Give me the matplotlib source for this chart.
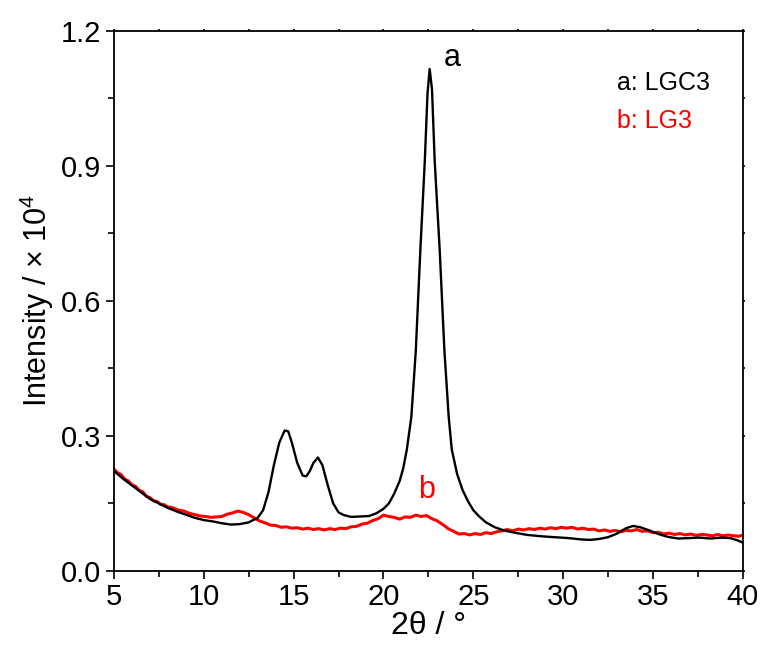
import matplotlib
matplotlib.use("Agg")
import matplotlib.pyplot as plt
from matplotlib.ticker import MultipleLocator, FormatStrFormatter

plt.rcParams['font.family'] = ['Liberation Sans', 'DejaVu Sans']
plt.rcParams['mathtext.fontset'] = 'custom'
plt.rcParams['mathtext.rm'] = 'Liberation Sans'

# LGC3 (curve a)
x_a = [5.0, 5.5, 6.0, 6.5, 7.0, 7.5, 8.0, 8.5, 9.0, 9.5, 10.0, 10.5, 11.0, 11.5,
       12.0, 12.5, 13.0, 13.3, 13.6, 13.9, 14.2, 14.5, 14.7, 14.9, 15.2, 15.5,
       15.7, 15.9, 16.1, 16.35, 16.6, 16.9, 17.2, 17.5, 17.8, 18.2, 18.7, 19.2,
       19.6, 20.0, 20.3, 20.6, 20.9, 21.1, 21.3, 21.55, 21.8, 22.05, 22.3, 22.45,
       22.57, 22.7, 22.85, 23.13, 23.39, 23.63, 23.8, 24.1, 24.4, 24.7, 25.0,
       25.3, 25.7, 26.2, 26.7, 27.3, 28.0, 28.8, 29.5, 30.3, 31.0, 31.5, 32.0,
       32.5, 33.0, 33.5, 33.9, 34.3, 34.8, 35.3, 35.8, 36.4, 37.0, 37.6, 38.2,
       38.8, 39.3, 39.7, 40.0]
y_a = [0.222, 0.205, 0.190, 0.175, 0.160, 0.150, 0.140, 0.132, 0.125, 0.118,
       0.113, 0.110, 0.106, 0.103, 0.104, 0.108, 0.118, 0.135, 0.175, 0.235,
       0.285, 0.312, 0.310, 0.285, 0.240, 0.212, 0.210, 0.222, 0.240, 0.252,
       0.235, 0.190, 0.150, 0.130, 0.124, 0.120, 0.121, 0.122, 0.128, 0.138,
       0.150, 0.172, 0.200, 0.228, 0.270, 0.342, 0.490, 0.712, 0.911, 1.060,
       1.115, 1.070, 0.911, 0.712, 0.490, 0.342, 0.270, 0.215, 0.180, 0.155,
       0.135, 0.122, 0.108, 0.097, 0.090, 0.085, 0.080, 0.077, 0.075, 0.073,
       0.070, 0.069, 0.071, 0.075, 0.083, 0.095, 0.100, 0.097, 0.090, 0.082,
       0.076, 0.072, 0.073, 0.074, 0.072, 0.074, 0.073, 0.068, 0.063]

# LG3 (curve b), read with its visible jitter
x_b = [5.0, 5.2, 5.4, 5.6, 5.8, 6.0, 6.2, 6.4, 6.6, 6.8, 7.0, 7.2, 7.4, 7.6,
       7.8, 8.0, 8.3, 8.6, 8.9, 9.2, 9.5, 9.8, 10.1, 10.4, 10.7, 11.0, 11.3,
       11.6, 11.9, 12.2, 12.5, 12.8, 13.1, 13.4, 13.7, 14.0, 14.3, 14.6, 14.9,
       15.2, 15.5, 15.8, 16.1, 16.4, 16.7, 17.0, 17.3, 17.6, 17.9, 18.2, 18.5,
       18.8, 19.1, 19.4, 19.7, 20.0, 20.3, 20.6, 20.9, 21.2, 21.5, 21.8, 22.1,
       22.4, 22.7, 23.0, 23.3, 23.6, 23.9, 24.2, 24.5, 24.8, 25.1, 25.4, 25.7,
       26.0, 26.3, 26.6, 26.9, 27.2, 27.5, 27.8, 28.1, 28.4, 28.7, 29.0, 29.3,
       29.6, 29.9, 30.2, 30.5, 30.8, 31.1, 31.4, 31.7, 32.0, 32.3, 32.6, 32.9,
       33.2, 33.5, 33.8, 34.1, 34.4, 34.7, 35.0, 35.3, 35.6, 35.9, 36.2, 36.5,
       36.8, 37.1, 37.4, 37.7, 38.0, 38.3, 38.6, 38.9, 39.2, 39.5, 39.8, 40.0]
y_b = [0.226, 0.218, 0.214, 0.204, 0.200, 0.191, 0.188, 0.179, 0.176, 0.166,
       0.163, 0.156, 0.154, 0.148, 0.147, 0.142, 0.140, 0.135, 0.133, 0.128,
       0.125, 0.122, 0.121, 0.119, 0.120, 0.121, 0.126, 0.129, 0.133, 0.130,
       0.125, 0.118, 0.111, 0.107, 0.102, 0.101, 0.097, 0.098, 0.095, 0.096,
       0.093, 0.095, 0.092, 0.094, 0.091, 0.094, 0.092, 0.095, 0.094, 0.098,
       0.099, 0.104, 0.106, 0.112, 0.116, 0.124, 0.121, 0.119, 0.115, 0.120,
       0.119, 0.124, 0.121, 0.123, 0.116, 0.111, 0.103, 0.094, 0.088, 0.082,
       0.083, 0.080, 0.083, 0.081, 0.085, 0.083, 0.087, 0.089, 0.092, 0.089,
       0.093, 0.091, 0.094, 0.092, 0.095, 0.093, 0.096, 0.094, 0.097, 0.095,
       0.097, 0.093, 0.095, 0.092, 0.093, 0.089, 0.091, 0.088, 0.090, 0.087,
       0.090, 0.089, 0.092, 0.088, 0.089, 0.085, 0.086, 0.082, 0.084, 0.081,
       0.083, 0.080, 0.082, 0.079, 0.081, 0.080, 0.078, 0.081, 0.078, 0.080,
       0.078, 0.077, 0.080]

fig = plt.figure(figsize=(7.65, 6.54), dpi=100)
ax = fig.add_axes([0.149, 0.127, 0.822, 0.826])

ax.plot(x_b, y_b, color='#ff0000', lw=2.2)
ax.plot(x_a, y_a, color='black', lw=1.7)

ax.set_xlim(5, 40)
ax.set_ylim(0, 1.2)
ax.xaxis.set_major_locator(MultipleLocator(5))
ax.xaxis.set_minor_locator(MultipleLocator(2.5))
ax.yaxis.set_major_locator(MultipleLocator(0.3))
ax.yaxis.set_minor_locator(MultipleLocator(0.15))
ax.yaxis.set_major_formatter(FormatStrFormatter('%.1f'))

ax.tick_params(which='both', direction='out', labelsize=21, width=1.2, pad=3)
ax.tick_params(which='major', length=6)
ax.tick_params(which='minor', length=4)
# the top and right axes only carry faint stubs
ax.tick_params(which='both', top=True, right=True)
for t in ax.xaxis.get_ticklines(minor=False)[1::2] + ax.xaxis.get_ticklines(minor=True)[1::2]:
    t.set_markersize(1.5)
for t in ax.yaxis.get_ticklines(minor=False)[1::2] + ax.yaxis.get_ticklines(minor=True)[1::2]:
    t.set_markersize(1.5)
for s in ax.spines.values():
    s.set_linewidth(1.3)

ax.set_xlabel('2θ / °', fontsize=23, labelpad=0)
ax.set_ylabel('Intensity / $\\times$ 10$^4$', fontsize=22, labelpad=4)

ax.text(23.85, 1.14, 'a', fontsize=22, ha='center', va='center')
ax.text(22.4, 0.18, 'b', fontsize=22, ha='center', va='center', color='#ff0000')
ax.text(33.0, 1.085, 'a: LGC3', fontsize=18, ha='left', va='center')
ax.text(33.0, 1.0, 'b: LG3', fontsize=18, ha='left', va='center', color='#ff0000')

fig.savefig('out.png', dpi=100)
